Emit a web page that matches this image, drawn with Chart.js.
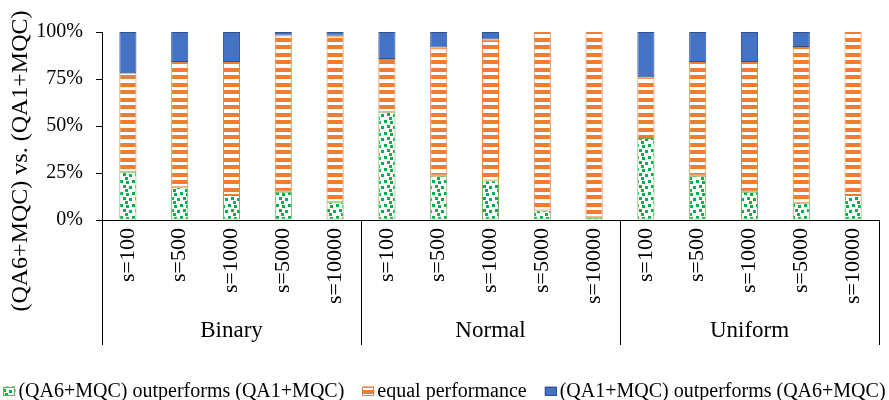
<!DOCTYPE html>
<html><head><meta charset="utf-8">
<script src="https://cdn.jsdelivr.net/npm/chart.js@4/dist/chart.umd.min.js"></script>
<style>html,body{margin:0;padding:0;background:#fff;} canvas{display:block;}</style>
</head><body>
<canvas id="c" width="889" height="400"></canvas>
<script>
const groups = ["Binary", "Normal", "Uniform"];
const categories = ["s=100","s=500","s=1000","s=5000","s=10000",
                    "s=100","s=500","s=1000","s=5000","s=10000",
                    "s=100","s=500","s=1000","s=5000","s=10000"];
const perGroup = 5;
const qa6Wins   = [25.7, 17.4, 13.3, 15.0, 9.4,  57.6, 23.6, 21.0, 5.1, 1.4,  43.6, 23.6, 15.0, 9.2, 13.3];
const equalPerf = [52.3, 66.6, 70.7, 83.2, 88.6, 28.0, 68.1, 75.0, 94.9, 98.6, 32.3, 60.4, 69.0, 82.8, 86.7];
const qa1Wins   = [22.0, 16.0, 16.0, 1.8, 2.0,   14.4, 8.3, 4.0, 0, 0,       24.1, 16.0, 16.0, 8.0, 0];
const seriesNames = ["(QA6+MQC) outperforms (QA1+MQC)", "equal performance", "(QA1+MQC) outperforms (QA6+MQC)"];
const yTicks = [0, 25, 50, 75, 100];
const yTitle = "(QA6+MQC) vs. (QA1+MQC)";

const SERIF = '"Liberation Serif", "Times New Roman", serif';
Chart.defaults.color = '#000';
Chart.defaults.font.family = SERIF;

function makePattern(w, h, draw) {
  const c = document.createElement('canvas');
  c.width = w; c.height = h;
  const x = c.getContext('2d');
  draw(x);
  return x.createPattern(c, 'repeat');
}
const greenPat = makePattern(12, 12, x => {
  x.fillStyle = '#fff'; x.fillRect(0, 0, 12, 12);
  x.fillStyle = '#00B050';
  [[0,0],[6,1],[3,5],[9,6],[5,9]].forEach(([a,b]) => x.fillRect(a, b, 3, 3));
});
const orangePat = makePattern(8, 15, x => {
  x.fillStyle = '#fff'; x.fillRect(0, 0, 8, 15);
  x.fillStyle = '#ED7D31'; x.fillRect(0, 0, 8, 4); x.fillRect(0, 8, 8, 4);
});

const CHART_BOTTOM = 220;

const groupPlugin = {
  id: 'groupLabels',
  afterDraw(chart) {
    const { ctx, chartArea, scales: { x } } = chart;
    ctx.save();
    ctx.strokeStyle = '#000';
    ctx.lineWidth = 1;
    const bounds = [chartArea.left];
    for (let g = 1; g < groups.length; g++) {
      bounds.push((x.getPixelForValue(g * perGroup - 1) + x.getPixelForValue(g * perGroup)) / 2);
    }
    bounds.push(chartArea.right);
    bounds.forEach(b => {
      const xx = Math.round(b) + 0.5;
      ctx.beginPath();
      ctx.moveTo(xx, chartArea.bottom);
      ctx.lineTo(xx, 345);
      ctx.stroke();
    });
    ctx.fillStyle = '#000';
    ctx.font = '23px ' + SERIF;
    ctx.textAlign = 'center';
    ctx.textBaseline = 'alphabetic';
    groups.forEach((g, i) => ctx.fillText(g, (bounds[i] + bounds[i + 1]) / 2, 337));

    // legend
    ctx.font = '20px ' + SERIF;
    ctx.textAlign = 'left';
    ctx.textBaseline = 'middle';
    const boxW = 12, boxH = 9, gapBT = 3, gapItems = 18, ly = 391;
    const widths = chart.data.datasets.map(d => boxW + gapBT + ctx.measureText(d.label).width);
    const total = widths.reduce((a, b) => a + b, 0) + gapItems * (widths.length - 1);
    let lx = (chart.width - total) / 2;
    chart.data.datasets.forEach((d, i) => {
      ctx.fillStyle = d.backgroundColor;
      ctx.fillRect(lx, ly - boxH / 2, boxW, boxH);
      ctx.strokeStyle = d.borderColor;
      ctx.lineWidth = 1;
      ctx.strokeRect(Math.round(lx) + 0.5, Math.round(ly - boxH / 2) + 0.5, boxW - 1, boxH - 1);
      ctx.fillStyle = '#000';
      ctx.fillText(d.label, lx + boxW + gapBT, ly + 1);
      lx += widths[i] + gapItems;
    });

    // y title
    ctx.translate(21, 161);
    ctx.rotate(-Math.PI / 2);
    ctx.textAlign = 'center';
    ctx.textBaseline = 'middle';
    ctx.font = '24px ' + SERIF;
    ctx.fillText(yTitle, 0, 0);
    ctx.restore();
  }
};

new Chart(document.getElementById('c'), {
  type: 'bar',
  data: {
    labels: categories,
    datasets: [
      { label: seriesNames[0], data: qa6Wins, backgroundColor: greenPat, borderColor: '#70AD47', borderWidth: 1, borderSkipped: false },
      { label: seriesNames[1], data: equalPerf, backgroundColor: orangePat, borderColor: '#ED7D31', borderWidth: 1, borderSkipped: false },
      { label: seriesNames[2], data: qa1Wins, backgroundColor: '#4472C4', borderColor: '#2F528F', borderWidth: 1, borderSkipped: false }
    ]
  },
  options: {
    responsive: false,
    animation: false,
    devicePixelRatio: 1,
    layout: { padding: { top: 32, right: 10, bottom: 0, left: 0 } },
    datasets: { bar: { categoryPercentage: 1, barPercentage: 0.33 } },
    plugins: {
      tooltip: { enabled: false },
      legend: { display: false }
    },
    scales: {
      x: {
        stacked: true,
        grid: { display: false, drawTicks: false },
        border: { display: true, color: '#000', width: 1 },
        ticks: { autoSkip: false, maxRotation: 90, minRotation: 90, padding: 8, font: { size: 22, family: SERIF }, color: '#000' },
        afterFit(scale) { scale.height = scale.chart.height - CHART_BOTTOM; }
      },
      y: {
        stacked: true,
        min: 0, max: 100,
        afterBuildTicks(scale) { scale.ticks = yTicks.map(v => ({ value: v })); },
        grid: { drawOnChartArea: false, drawTicks: true, tickLength: 6, color: '#000' },
        border: { display: true, color: '#000', width: 1 },
        ticks: { padding: 13, font: { size: 20, family: SERIF }, color: '#000', callback: v => v + '%' },
        afterFit(scale) { scale.width = 102; }
      }
    }
  },
  plugins: [groupPlugin]
});
</script>
</body></html>
